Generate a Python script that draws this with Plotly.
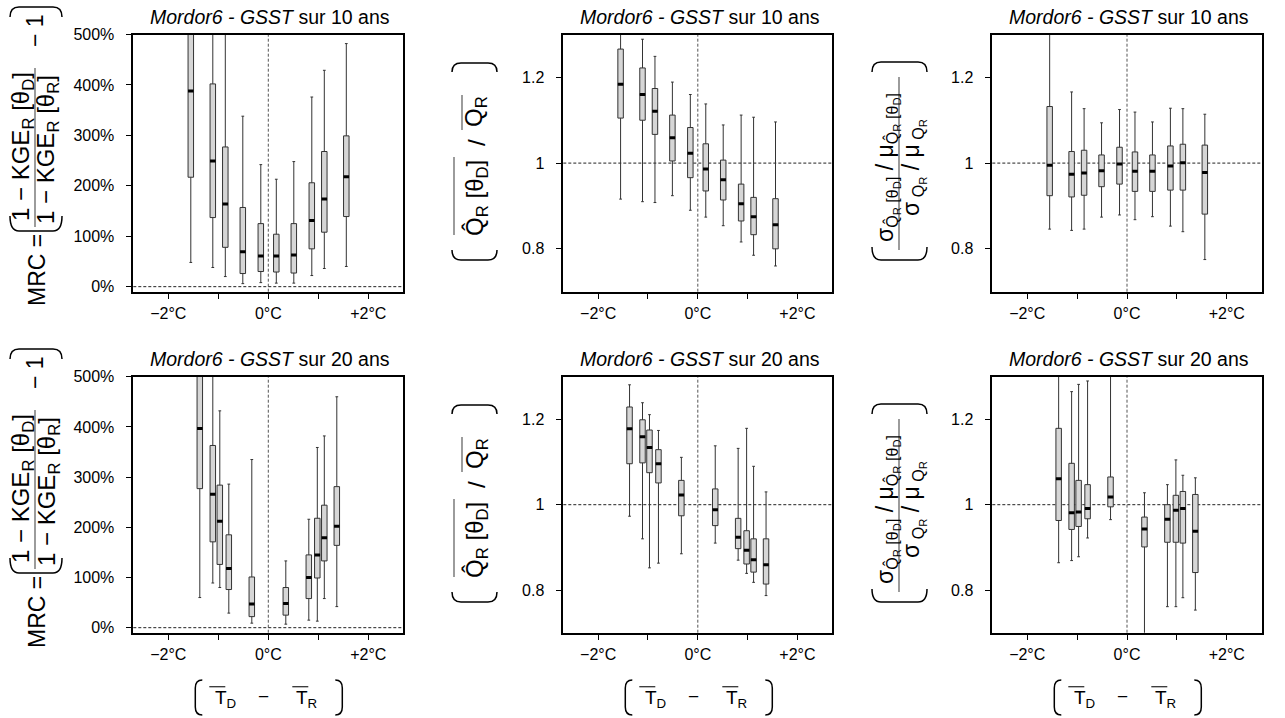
import plotly.graph_objects as go

# ---------------- data ----------------
pos10 = [-1.55, -1.11, -0.86, -0.51, -0.15, 0.16, 0.51, 0.87, 1.12, 1.56]
pos20 = [-1.37, -1.11, -0.97, -0.79, -0.33, 0.35, 0.81, 0.98, 1.12, 1.37]

# MRC (%) - 10 ans
mrc10_lo = [48, 38, 20, 6, 8, 7, 7, 22, 36, 40]
mrc10_q1 = [217, 137, 78, 26, 30, 29, 27, 75, 108, 139]
mrc10_med = [388, 249, 164, 69, 61, 61, 63, 131, 174, 218]
mrc10_q3 = [560, 402, 277, 157, 125, 104, 125, 206, 268, 299]
mrc10_hi = [900, 640, 540, 338, 242, 213, 248, 376, 429, 482]

# Q ratio - 10 ans
q10_lo = [0.916, 0.910, 0.908, 0.924, 0.890, 0.874, 0.854, 0.816, 0.785, 0.760]
q10_q1 = [1.105, 1.100, 1.067, 1.005, 0.966, 0.935, 0.914, 0.865, 0.833, 0.800]
q10_med = [1.184, 1.160, 1.121, 1.059, 1.023, 0.986, 0.961, 0.905, 0.875, 0.856]
q10_q3 = [1.266, 1.222, 1.174, 1.112, 1.083, 1.045, 1.007, 0.951, 0.920, 0.917]
q10_hi = [1.330, 1.289, 1.249, 1.189, 1.160, 1.138, 1.089, 1.112, 1.107, 1.096]

# sigma ratio - 10 ans
s10_lo = [0.846, 0.843, 0.846, 0.874, 0.879, 0.868, 0.875, 0.853, 0.840, 0.775]
s10_q1 = [0.924, 0.921, 0.925, 0.945, 0.951, 0.934, 0.934, 0.937, 0.937, 0.881]
s10_med = [0.995, 0.974, 0.977, 0.982, 0.998, 0.981, 0.981, 0.993, 1.001, 0.978]
s10_q3 = [1.132, 1.027, 1.030, 1.019, 1.037, 1.026, 1.019, 1.040, 1.044, 1.042]
s10_hi = [1.360, 1.166, 1.127, 1.094, 1.125, 1.119, 1.096, 1.128, 1.127, 1.114]

# MRC (%) - 20 ans
mrc20_lo = [60, 89, 80, 29, 9, 7, 15, 13, 58, 42]
mrc20_q1 = [277, 171, 126, 76, 22, 25, 58, 99, 133, 164]
mrc20_med = [397, 266, 212, 118, 47, 48, 100, 145, 179, 202]
mrc20_q3 = [560, 363, 284, 185, 101, 80, 145, 218, 244, 281]
mrc20_hi = [900, 620, 432, 286, 335, 133, 216, 359, 382, 460]

# Q ratio - 20 ans
q20_lo = [0.973, 0.920, 0.852, 0.863, 0.885, 0.910, 0.870, 0.839, 0.818, 0.787]
q20_q1 = [1.096, 1.098, 1.075, 1.051, 0.974, 0.951, 0.897, 0.861, 0.842, 0.814]
q20_med = [1.178, 1.159, 1.134, 1.096, 1.023, 0.988, 0.924, 0.893, 0.871, 0.859]
q20_q3 = [1.229, 1.199, 1.175, 1.129, 1.057, 1.037, 0.968, 0.939, 0.920, 0.920]
q20_hi = [1.281, 1.239, 1.211, 1.174, 1.111, 1.138, 1.132, 1.179, 1.090, 1.030]

# sigma ratio - 20 ans
s20_lo = [0.864, 0.869, 0.878, 0.922, 0.965, 0.620, 0.761, 0.761, 0.782, 0.753]
s20_q1 = [0.963, 0.942, 0.949, 0.967, 0.995, 0.901, 0.912, 0.912, 0.910, 0.841]
s20_med = [1.061, 0.981, 0.983, 0.991, 1.018, 0.943, 0.966, 0.987, 0.991, 0.938]
s20_q3 = [1.179, 1.097, 1.057, 1.047, 1.065, 0.971, 1.000, 1.022, 1.031, 1.024]
s20_hi = [1.380, 1.265, 1.282, 1.290, 1.340, 1.028, 1.047, 1.105, 1.069, 1.063]

x_ticks = [-2, 0, 2]
x_ticktext = ["\u22122\u00b0C", "0\u00b0C", "+2\u00b0C"]
x_minor_ticks = [-1, 1]
mrc_ticks = [0, 100, 200, 300, 400, 500]
mrc_ticktext = ["0%", "100%", "200%", "300%", "400%", "500%"]
ratio_ticks = [0.8, 1, 1.2]
ratio_ticktext = ["0.8", "1", "1.2"]

# ---------------- layout geometry (pixels) ----------------
W, H = 1285, 718
FONT = "Liberation Sans, Arial, Helvetica, sans-serif"
col_px = [(133.3, 403.3), (563.3, 832.3), (992.3, 1261.7)]
row_px = [(34.5, 291.7), (376.7, 632.7)]
DY = 342
BOXW = 0.11


def X(px):
    return px / W


def Y(py):
    return 1 - py / H


panels = [
    (0, 0, pos10, mrc10_lo, mrc10_q1, mrc10_med, mrc10_q3, mrc10_hi, "mrc", "10"),
    (0, 1, pos10, q10_lo, q10_q1, q10_med, q10_q3, q10_hi, "ratio", "10"),
    (0, 2, pos10, s10_lo, s10_q1, s10_med, s10_q3, s10_hi, "ratio", "10"),
    (1, 0, pos20, mrc20_lo, mrc20_q1, mrc20_med, mrc20_q3, mrc20_hi, "mrc", "20"),
    (1, 1, pos20, q20_lo, q20_q1, q20_med, q20_q3, q20_hi, "ratio", "20"),
    (1, 2, pos20, s20_lo, s20_q1, s20_med, s20_q3, s20_hi, "ratio", "20"),
]

fig = go.Figure()
layout = dict(
    width=W, height=H, autosize=False,
    margin=dict(l=0, r=0, t=0, b=0, pad=0, autoexpand=False),
    paper_bgcolor="white", plot_bgcolor="white",
    showlegend=False,
    font=dict(family=FONT, color="black", size=16),
)
shapes = []
annotations = []

for i, (r, c, pos, lo, q1, med, q3, hi, kind, yrs) in enumerate(panels):
    n = i + 1
    xa = "x" if n == 1 else f"x{n}"
    ya = "y" if n == 1 else f"y{n}"
    xkey = "xaxis" if n == 1 else f"xaxis{n}"
    ykey = "yaxis" if n == 1 else f"yaxis{n}"
    x0, x1 = col_px[c]
    yt, yb = row_px[r]
    common = dict(
        showline=True, linecolor="black", linewidth=1.5, mirror=True,
        ticks="outside", ticklen=6, tickwidth=1, tickcolor="black",
        showgrid=False, zeroline=False, automargin=False,
        tickfont=dict(family=FONT, size=16, color="black"),
    )
    layout[xkey] = dict(
        domain=[X(x0), X(x1)], anchor=ya, range=[-2.7, 2.7],
        tickmode="array", tickvals=x_ticks, ticktext=x_ticktext,
        minor=dict(tickmode="array", tickvals=x_minor_ticks, ticks="outside",
                   ticklen=6, tickwidth=1, tickcolor="black", showgrid=False),
        **common,
    )
    if kind == "mrc":
        layout[ykey] = dict(
            domain=[Y(yb), Y(yt)], anchor=xa, range=[-10, 500],
            tickmode="array", tickvals=mrc_ticks, ticktext=mrc_ticktext,
            ticklabelstandoff=8, **common,
        )
        ref = 0
    else:
        layout[ykey] = dict(
            domain=[Y(yb), Y(yt)], anchor=xa, range=[0.7, 1.3],
            tickmode="array", tickvals=ratio_ticks, ticktext=ratio_ticktext,
            ticklabelstandoff=8, **common,
        )
        ref = 1

    # reference lines
    shapes.append(dict(type="line", xref=xa, yref=f"{ya} domain", x0=0, x1=0, y0=0, y1=1,
                       line=dict(color="#555", width=1, dash="3px,2px"), layer="below"))
    shapes.append(dict(type="line", xref=f"{xa} domain", yref=ya, x0=0, x1=1, y0=ref, y1=ref,
                       line=dict(color="#222", width=1, dash="3px,2px"), layer="below"))

    fig.add_trace(go.Box(
        x=pos, q1=q1, median=med, q3=q3, lowerfence=lo, upperfence=hi,
        width=BOXW, whiskerwidth=0.5, boxpoints=False,
        fillcolor="#d6d6d6", line=dict(color="#333", width=1),
        xaxis=xa, yaxis=ya, hoverinfo="skip",
    ))
    mx, my = [], []
    for p, m in zip(pos, med):
        mx += [p - BOXW / 2, p + BOXW / 2, None]
        my += [m, m, None]
    fig.add_trace(go.Scatter(x=mx, y=my, mode="lines", line=dict(color="black", width=3),
                             xaxis=xa, yaxis=ya, hoverinfo="skip"))

    # title
    annotations.append(dict(
        text=f"<i>Mordor6 - GSST</i> sur {yrs} ans",
        x=X((x0 + x1) / 2 + 2), y=Y(17 + r * DY),
        xref="paper", yref="paper", showarrow=False,
        xanchor="center", yanchor="middle",
        font=dict(family=FONT, size=19.5, color="black"),
    ))


def ann(text, x, y, size, angle=-90):
    annotations.append(dict(
        text=text, x=X(x), y=Y(y), xref="paper", yref="paper", showarrow=False,
        textangle=angle, xanchor="center", yanchor="middle",
        font=dict(family=FONT, size=size, color="black"),
    ))


def hline(x0, x1, y, color="#555", width=1.3):
    shapes.append(dict(type="line", xref="paper", yref="paper",
                       x0=X(x0), x1=X(x1), y0=Y(y), y1=Y(y),
                       line=dict(color=color, width=width)))


def vline(x, y0, y1, color="#666", width=1.3):
    shapes.append(dict(type="line", xref="paper", yref="paper",
                       x0=X(x), x1=X(x), y0=Y(y0), y1=Y(y1),
                       line=dict(color=color, width=width)))


def arc(x0, x1, yend, ypeak, rr=9):
    # horizontal bracket (rotated parenthesis)
    path = (f"M {X(x0)},{Y(yend)} Q {X(x0)},{Y(ypeak)} {X(x0 + rr)},{Y(ypeak)} "
            f"L {X(x1 - rr)},{Y(ypeak)} Q {X(x1)},{Y(ypeak)} {X(x1)},{Y(yend)}")
    shapes.append(dict(type="path", xref="paper", yref="paper", path=path,
                       line=dict(color="black", width=1.5)))


def varc(xend, xpeak, y0, y1, rr=8):
    # vertical parenthesis
    path = (f"M {X(xend)},{Y(y0)} Q {X(xpeak)},{Y(y0)} {X(xpeak)},{Y(y0 + rr)} "
            f"L {X(xpeak)},{Y(y1 - rr)} Q {X(xpeak)},{Y(y1)} {X(xend)},{Y(y1)}")
    shapes.append(dict(type="path", xref="paper", yref="paper", path=path,
                       line=dict(color="black", width=1.5)))


QHAT = "Q\u0302"
for r in range(2):
    d = r * DY
    # --- column 1 : MRC ---
    ann("MRC =", 37, 270 + d, 23)
    ann("1 \u2212 KGE<sub>R</sub> [\u03b8<sub>D</sub>]", 22, 147 + d, 24)
    vline(35, 68 + d, 227 + d)
    ann("1 \u2212 KGE<sub>R</sub> [\u03b8<sub>R</sub>]", 48, 150 + d, 24)
    ann("\u2212 1", 35, 31 + d, 23)
    arc(10, 62, 17 + d, 7 + d)
    arc(10, 62, 216 + d, 231 + d)
    # --- column 2 : Q ratio ---
    ann(f"{QHAT}<sub>R</sub> [\u03b8<sub>D</sub>]", 476, 198 + d, 24)
    vline(454, 157 + d, 235 + d)
    ann("/", 476, 143 + d, 24)
    ann("Q<sub>R</sub>", 476, 112 + d, 24)
    vline(462, 95 + d, 130 + d)
    arc(452, 497, 72 + d, 63 + d)
    arc(452, 497, 250 + d, 260 + d)
    # --- column 3 : sigma ratio ---
    ann(f"\u03c3<sub>{QHAT}<sub>R</sub> [\u03b8<sub>D</sub>]</sub> / \u03bc<sub>{QHAT}<sub>R</sub> [\u03b8<sub>D</sub>]</sub>",
        887, 168 + d, 23)
    vline(899, 77 + d, 250 + d)
    ann("\u03c3<sub> Q<sub>R</sub></sub> / \u03bc<sub> Q<sub>R</sub></sub>", 913, 168 + d, 23)
    arc(872, 927, 72 + d, 62 + d)
    arc(872, 927, 247 + d, 260 + d)

# x labels under bottom row
for c in range(3):
    cx = 268.3 + (col_px[c][0] - col_px[0][0])
    varc(cx - 66, cx - 73, 680, 715)
    ann("T<sub>D</sub>", cx - 43, 699, 19, angle=0)
    ann("\u2212", cx - 5, 696, 19, angle=0)
    ann("T<sub>R</sub>", cx + 38, 699, 19, angle=0)
    varc(cx + 67, cx + 74, 680, 715)
    hline(cx - 59, cx - 43, 686.7, color="#333")
    hline(cx + 24, cx + 40, 686.7, color="#333")

layout["shapes"] = shapes
layout["annotations"] = annotations
fig.update_layout(**layout)
fig.write_html(
    "out.html",
    config={"displayModeBar": False},
    post_script=("document.body.style.margin='0';document.body.style.padding='0';"
                 "document.documentElement.style.overflow='hidden';"
                 "document.body.style.overflow='hidden';"),
)
